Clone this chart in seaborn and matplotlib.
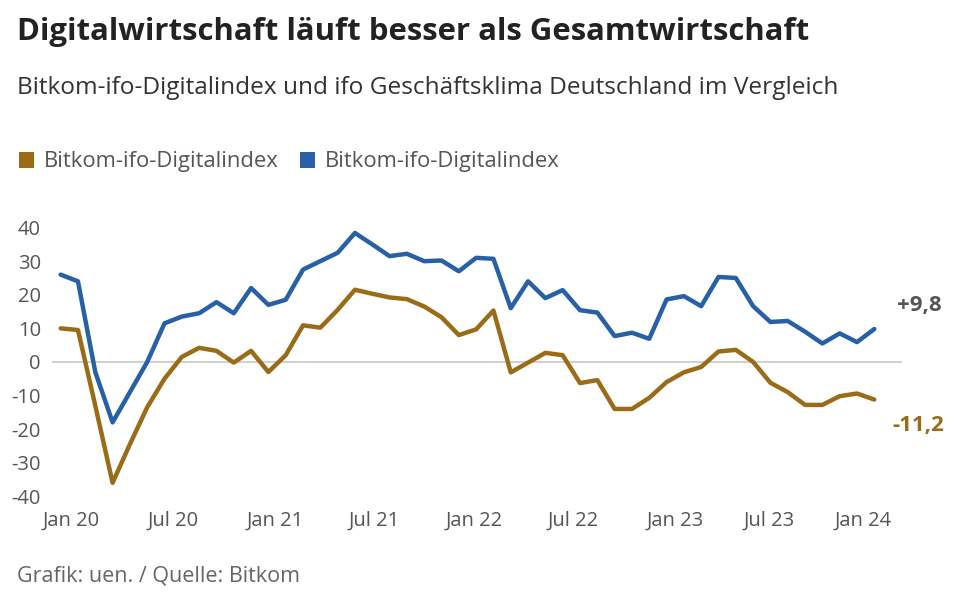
import numpy as np
import pandas as pd
import matplotlib
matplotlib.use("Agg")
import matplotlib.pyplot as plt
import seaborn as sns
from matplotlib.patches import Patch

# ---- data (monthly, Jan 2020 onwards) ----
digital_index = [26, 24, -3, -18, -9, 0, 11.5, 13.5, 14.5, 17.8, 14.5, 22,
                 17, 18.5, 27.5, 30, 32.5, 38.4, 35, 31.5, 32.2, 30, 30.2, 27,
                 31, 30.7, 16, 24, 19, 21.4, 15.4, 14.7, 7.7, 8.7, 6.9, 18.6,
                 19.6, 16.6, 25.3, 25, 16.6, 11.9, 12.2, 9, 5.5, 8.5, 5.9, 9.8]
ifo_climate = [10, 9.5, -13, -36, -24.5, -13.5, -5, 1.5, 4.2, 3.3, -0.2, 3.3,
               -3, 2, 10.9, 10.2, 15.5, 21.5, 20.3, 19.2, 18.7, 16.5, 13.3, 8,
               9.7, 15.3, -3.1, -0.2, 2.7, 2, -6.3, -5.4, -14, -14, -10.7, -6,
               -3.1, -1.5, 3.1, 3.6, 0, -6.2, -9, -12.8, -12.8, -10.2, -9.4, -11.2]
series_names = ["ifo Geschäftsklima", "Bitkom-ifo-Digitalindex"]
legend_labels = ["Bitkom-ifo-Digitalindex", "Bitkom-ifo-Digitalindex"]
tick_labels = ["Jan 20", "Jul 20", "Jan 21", "Jul 21", "Jan 22", "Jul 22",
               "Jan 23", "Jul 23", "Jan 24"]
tick_positions = [0.62, 6.49, 12.39, 18.14, 23.86, 29.6, 35.5, 40.94, 46.38]
yticks = [-40, -30, -20, -10, 0, 10, 20, 30, 40]
end_labels = ["-11,2", "+9,8"]

colors = {"ifo Geschäftsklima": "#9b6c17", "Bitkom-ifo-Digitalindex": "#2760a6"}

n = len(digital_index)
df = pd.DataFrame({
    "t": list(range(n)) * 2,
    "value": ifo_climate + digital_index,
    "series": [series_names[0]] * n + [series_names[1]] * n,
})

sns.set_theme(style="white")
plt.rcParams["font.family"] = ["Open Sans", "DejaVu Sans"]

fig = plt.figure(figsize=(9.6, 6.13), dpi=100)
ax = fig.add_axes([52 / 960, (613 - 505) / 613, 850 / 960, 290 / 613])

ax.axhline(0, color="#c8c8c8", lw=1.2, zorder=1)
sns.lineplot(data=df, x="t", y="value", hue="series", palette=colors,
             hue_order=series_names, linewidth=3.2, ax=ax, legend=False,
             zorder=3)

ax.set_xlim(-0.5, 48.6)
ax.set_ylim(-42.6, 43.75)
ax.set_xticks(tick_positions)
ax.set_xticklabels(tick_labels)
ax.set_yticks(yticks)
ax.set_yticklabels([str(v) for v in yticks])
ax.tick_params(axis="both", length=0, labelsize=14.5, colors="#555555")
ax.tick_params(axis="x", pad=4)
ax.tick_params(axis="y", pad=8)
ax.set_xlabel("")
ax.set_ylabel("")
for s in ax.spines.values():
    s.set_visible(False)

# end labels
ax.annotate(end_labels[1], xy=(n - 1, digital_index[-1]), xytext=(16, 17),
            textcoords="offset points", ha="left", va="center",
            fontsize=16, fontweight="bold", color="#555555")
ax.annotate(end_labels[0], xy=(n - 1, ifo_climate[-1]), xytext=(13, -19),
            textcoords="offset points", ha="left", va="center",
            fontsize=16, fontweight="bold", color=colors[series_names[0]])

# titles
fig.text(17 / 960, 1 - 32 / 613, "Digitalwirtschaft läuft besser als Gesamtwirtschaft",
         fontsize=22.4, fontweight="bold", color="#222222", va="center", ha="left")
fig.text(17 / 960, 1 - 88 / 613,
         "Bitkom-ifo-Digitalindex und ifo Geschäftsklima Deutschland im Vergleich",
         fontsize=17.6, color="#333333", va="center", ha="left")

# legend
handles = [Patch(facecolor=colors[s], edgecolor="none") for s in series_names]
fig.legend(handles, legend_labels, loc="center left",
           bbox_to_anchor=(-1 / 960, 1 - 162 / 613), ncol=2, frameon=False,
           fontsize=15.8, handlelength=0.7, handleheight=0.7,
           handletextpad=0.45, columnspacing=0.95, labelcolor="#555555")

fig.text(17 / 960, 1 - 576 / 613, "Grafik: uen. / Quelle: Bitkom",
         fontsize=15.5, color="#666666", va="center", ha="left")

fig.savefig("out.png", dpi=100, facecolor="white")
